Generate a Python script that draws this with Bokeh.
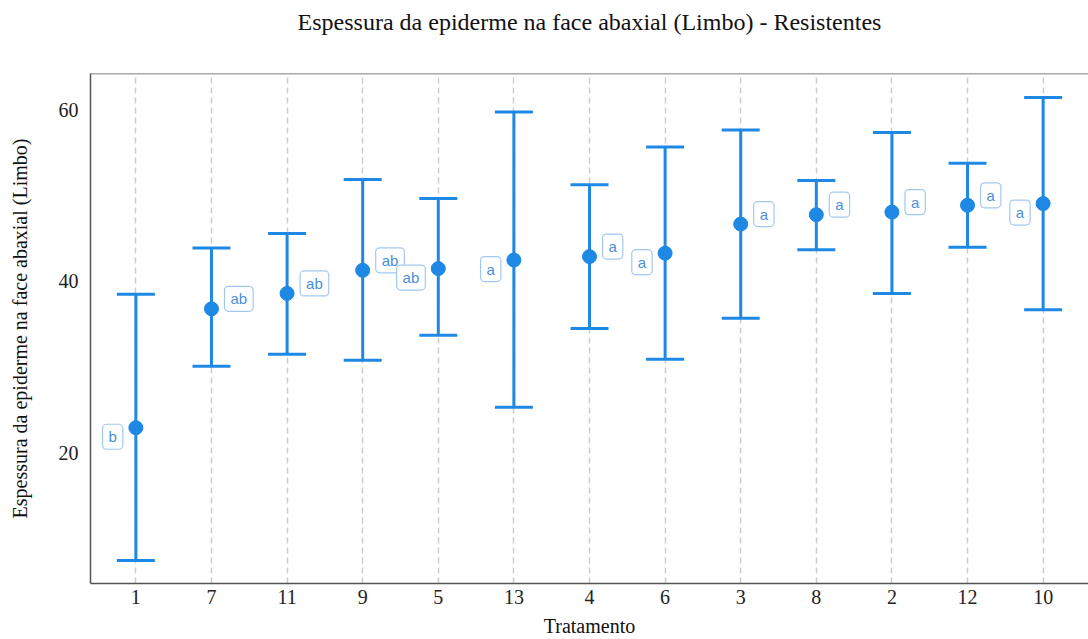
from bokeh.plotting import figure
from bokeh.models import Range1d, FixedTicker, ColumnDataSource, Whisker, TeeHead, Title, Span
from bokeh.core.properties import value
from bokeh.embed import file_html
from bokeh.resources import INLINE

tratamentos = ["1", "7", "11", "9", "5", "13", "4", "6", "3", "8", "2", "12", "10"]
medias = [22.9, 36.8, 38.6, 41.3, 41.5, 42.5, 42.9, 43.3, 46.7, 47.8, 48.1, 48.9, 49.1]
superior = [38.5, 43.9, 45.6, 51.9, 49.7, 59.8, 51.3, 55.7, 57.7, 51.8, 57.4, 53.8, 61.5]
inferior = [7.4, 30.1, 31.5, 30.8, 33.7, 25.3, 34.5, 30.9, 35.7, 43.7, 38.6, 44.0, 36.7]
letras = ["b", "ab", "ab", "ab", "ab", "a", "a", "a", "a", "a", "a", "a", "a"]
lado = ["L", "R", "R", "R", "L", "L", "R", "L", "R", "R", "R", "R", "L"]

BLUE = "#1e88e5"
SERIF = "Liberation Serif"

xs = list(range(len(tratamentos)))
src = ColumnDataSource(dict(x=xs, m=medias, up=superior, lo=inferior))

p = figure(width=1088, height=639, output_backend="svg", toolbar_location=None,
           x_range=Range1d(-0.6, 12.6), y_range=Range1d(4.7, 64.3),
           min_border_left=90, min_border_right=0, min_border_top=73, min_border_bottom=56)
p.title = None
# spacer (closest to the frame), then the real title above it
p.add_layout(Title(text=" ", text_font_size="33px", standoff=0), "above")
p.add_layout(Title(text="Espessura da epiderme na face abaxial (Limbo) - Resistentes",
                   align="center", text_font=SERIF, text_font_size="24px",
                   text_font_style="normal", text_color="#111111", standoff=0), "above")

p.outline_line_color = None
p.background_fill_color = "white"
p.border_fill_color = "white"

p.xaxis.ticker = FixedTicker(ticks=xs)
p.xaxis.major_label_overrides = {i: t for i, t in enumerate(tratamentos)}
p.yaxis.ticker = FixedTicker(ticks=[20, 40, 60])
for ax in (p.xaxis[0], p.yaxis[0]):
    ax.major_tick_line_color = None
    ax.minor_tick_line_color = None
    ax.axis_line_color = "#555555"
    ax.axis_line_width = 1.5
    ax.major_label_text_font = SERIF
    ax.major_label_text_font_size = "20px"
    ax.major_label_text_color = "#222222"
    ax.axis_label_text_font = SERIF
    ax.axis_label_text_font_size = "20px"
    ax.axis_label_text_font_style = "normal"
    ax.axis_label_text_color = "#111111"
p.xaxis.axis_label = "Tratamento"
p.yaxis.axis_label = "Espessura da epiderme na face abaxial (Limbo)"
p.xaxis.major_label_standoff = 0
p.xaxis.axis_label_standoff = 8
p.yaxis.major_label_standoff = 6
p.yaxis.axis_label_standoff = 25

p.add_layout(Span(location=64.3, dimension="width", line_color="#555555", line_width=1.5))

p.ygrid.grid_line_color = None
p.xgrid.grid_line_color = "#cccccc"
p.xgrid.grid_line_dash = "6 4"
p.xgrid.grid_line_width = 1.5

w = Whisker(source=src, base="x", upper="up", lower="lo", dimension="height",
            line_color=BLUE, line_width=3,
            upper_head=TeeHead(size=38, line_color=BLUE, line_width=3),
            lower_head=TeeHead(size=38, line_color=BLUE, line_width=3))
p.add_layout(w)
p.scatter("x", "m", source=src, size=14, color=BLUE)

rx = [x for x, s in zip(xs, lado) if s == "R"]
rm = [m for m, s in zip(medias, lado) if s == "R"]
rl = [l for l, s in zip(letras, lado) if s == "R"]
lx = [x for x, s in zip(xs, lado) if s == "L"]
lm = [m for m, s in zip(medias, lado) if s == "L"]
ll = [l for l, s in zip(letras, lado) if s == "L"]

common = dict(text_font=value("Liberation Sans"), text_font_size="15px", text_color="#4a8fdc",
              text_baseline="middle", background_fill_color="white",
              border_line_color="#a3c8f0", border_line_width=1.2, border_radius=4,
              padding=dict(x=6, y=4))
p.text(x=rx, y=rm, text=rl, text_align="left", x_offset=13, y_offset=-10, **common)
p.text(x=lx, y=lm, text=ll, text_align="right", x_offset=-13, y_offset=9, **common)

open("out.html", "w").write(file_html(p, INLINE))
